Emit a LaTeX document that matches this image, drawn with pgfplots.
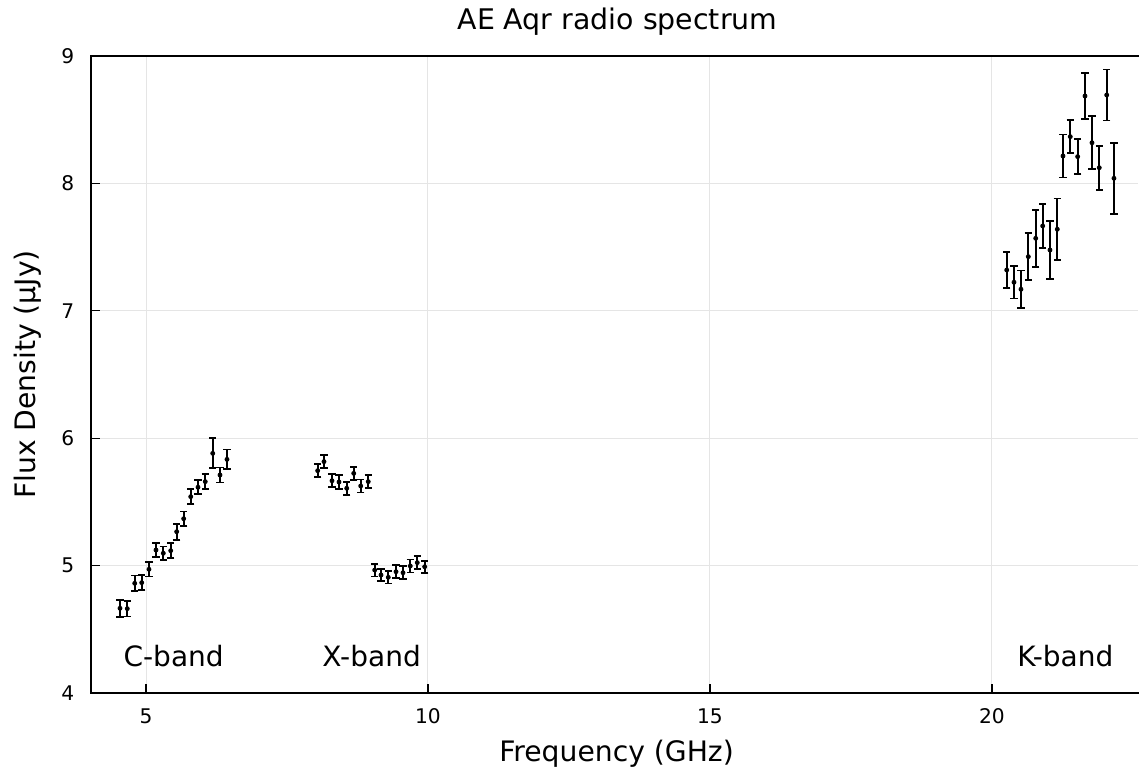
\documentclass[border=0pt]{standalone}
\usepackage{pgfplots}
\pgfplotsset{compat=1.18}
\usepackage{pgfplotstable}
\usepackage{fontspec}
\setmainfont{DejaVu Sans}
\usetikzlibrary{calc}

\pgfplotstableread{
x y e
4.539 4.665 0.068
4.668 4.662 0.062
4.800 4.861 0.062
4.924 4.866 0.058
5.053 4.971 0.057
5.177 5.122 0.055
5.307 5.097 0.053
5.438 5.117 0.060
5.544 5.266 0.063
5.668 5.368 0.056
5.793 5.541 0.058
5.922 5.615 0.055
6.051 5.659 0.058
6.183 5.881 0.118
6.312 5.711 0.059
6.436 5.834 0.078
}\Cband

\pgfplotstableread{
x y e
8.044 5.745 0.052
8.156 5.816 0.050
8.298 5.666 0.051
8.422 5.656 0.052
8.559 5.607 0.052
8.683 5.724 0.052
8.807 5.625 0.051
8.941 5.659 0.050
9.055 4.965 0.050
9.167 4.926 0.048
9.296 4.908 0.048
9.433 4.952 0.050
9.557 4.944 0.050
9.686 4.997 0.051
9.810 5.023 0.050
9.941 4.991 0.047
}\Xband

\pgfplotstableread{
x y e
20.261 7.320 0.140
20.390 7.224 0.127
20.514 7.169 0.148
20.644 7.425 0.186
20.775 7.569 0.223
20.899 7.666 0.170
21.028 7.477 0.225
21.158 7.640 0.242
21.259 8.215 0.168
21.388 8.367 0.131
21.519 8.210 0.137
21.649 8.686 0.183
21.773 8.319 0.209
21.902 8.123 0.173
22.034 8.694 0.200
22.163 8.040 0.280
}\Kband

\pgfplotsset{ebars/.style={black, only marks, mark=*, mark size=1pt,
  error bars/.cd, y dir=both, y explicit, error mark=|,
  error bar style={line width=1pt, black},
  error mark options={black, mark size=1.8pt, line width=0.9pt}}}

\begin{document}
\begin{tikzpicture}
\begin{axis}[
  scale only axis, width=523.5pt, height=318.5pt,
  xmin=4.0248, xmax=22.589, ymin=4, ymax=9,
  xtick={5,10,15,20}, ytick={4,5,6,7,8,9},
  xtick pos=bottom, ytick pos=left,
  tick align=inside,
  major tick length=4.5pt,
  every tick/.style={black, line width=0.6pt},
  axis line style={draw=none},
  grid=major,
  major grid style={color=black!10, line width=0.5pt},
  /pgf/number format/assume math mode=true,
  tick label style={font=\fontsize{10.1}{12}\selectfont},
  xticklabel shift=4.2pt,
  yticklabel shift=4.85pt,
  clip=false,
]
\addplot[ebars] table[x=x, y=y, y error=e] {\Cband};
\addplot[ebars] table[x=x, y=y, y error=e] {\Xband};
\addplot[ebars] table[x=x, y=y, y error=e] {\Kband};
\node[font=\fontsize{14}{17}\selectfont, anchor=base] at (axis cs:5.49,4.207) {C-band};
\node[font=\fontsize{14}{17}\selectfont, anchor=base] at (axis cs:9.0,4.207) {X-band};
\node[font=\fontsize{14}{17}\selectfont, anchor=base] at (axis cs:21.3,4.207) {K-band};
\end{axis}
\draw[line width=1pt, line cap=rect] (current axis.north east) -- (current axis.north west) -- (current axis.south west) -- (current axis.south east);
\node[font=\fontsize{14.1}{17}\selectfont, anchor=base] at ($(current axis.south)+(1pt,-34.3pt)$) {Frequency (GHz)};
\node[font=\fontsize{14.1}{17}\selectfont, rotate=90, anchor=base] at ($(current axis.west)+(-27.5pt,0)$) {Flux Density (μJy)};
\node[font=\fontsize{14.2}{17}\selectfont, anchor=base] at ($(current axis.north)+(1.5pt,13.35pt)$) {AE Aqr radio spectrum};
\pgfresetboundingbox
\path[use as bounding box] ($(current axis.south west)+(-45.5pt,-38pt)$) rectangle ($(current axis.north east)+(1pt,28pt)$);
\end{tikzpicture}
\end{document}
